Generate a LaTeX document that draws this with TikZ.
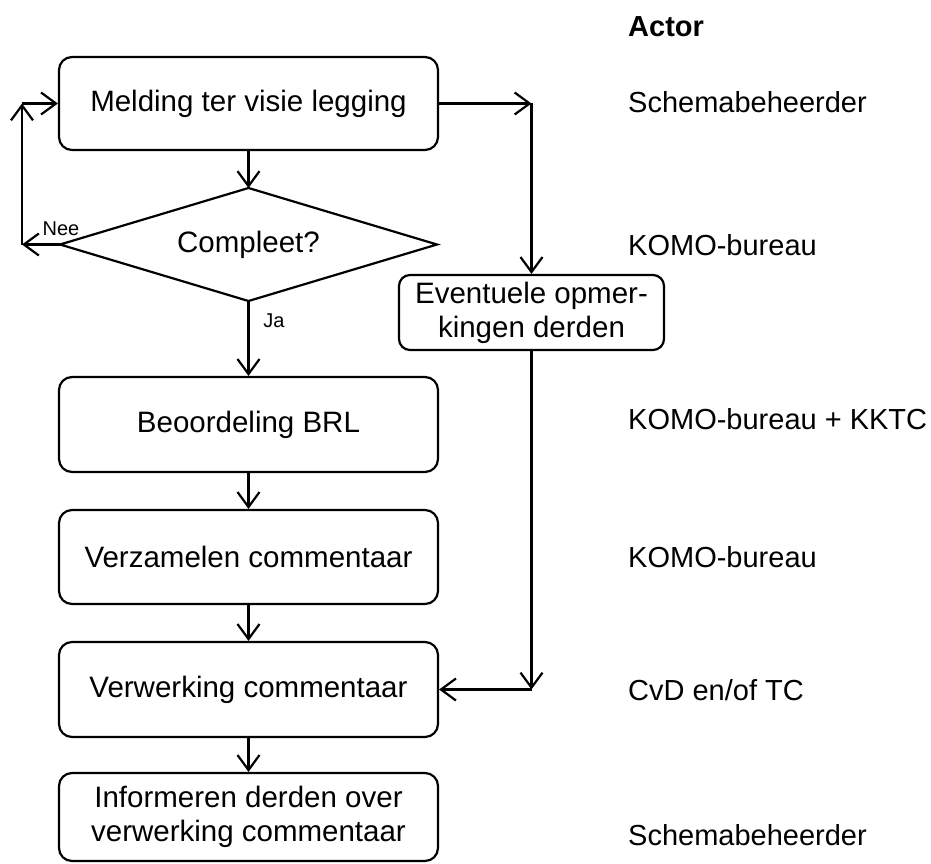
\documentclass[tikz,border=0pt]{standalone}
\usepackage{fontspec}
\setmainfont{Liberation Sans}
\usetikzlibrary{arrows.meta}
\begin{document}
\begin{tikzpicture}[x=1pt,y=-1pt,
  every node/.style={font=\fontsize{29.5}{34}\selectfont},
  box/.style={draw,line width=2.2pt,rounded corners=13pt,minimum width=379pt,align=center,inner sep=0pt},
  conn/.style={line width=2.2pt,-{Straight Barb[length=15pt,width=22pt,line width=2.2pt]}},
  small/.style={font=\fontsize{20}{24}\selectfont},
  actor/.style={anchor=base west,inner sep=0pt,font=\fontsize{29}{34}\selectfont}]
\useasboundingbox (0,0) rectangle (931,864);
\node[box,minimum height=93pt] (m) at (248.5,103.5) {Melding ter visie legging};
\coordinate (dt) at (248.5,188);
\coordinate (dr) at (437,244.5);
\coordinate (db) at (248.5,301);
\coordinate (dl) at (60,244.5);
\draw[line width=2.2pt,line join=miter] (dt) -- (dr) -- (db) -- (dl) -- cycle;
\node (d) at (248.5,244.5) {Compleet?};
\node[box,minimum height=95pt] (b) at (248.5,424.5) {Beoordeling BRL};
\node[box,minimum height=94pt] (v) at (248.5,557) {Verzamelen commentaar};
\node[box,minimum height=95pt] (w) at (248.5,689.5) {Verwerking commentaar};
\node[box,minimum height=88pt] (i) at (248.5,817) {Informeren derden over\\verwerking commentaar};
\node[box,minimum width=265pt,minimum height=75pt,rounded corners=11pt] (e) at (531.5,312.5) {Eventuele opmer-\\kingen derden};
\coordinate (lb) at (22,244.5);
\coordinate (lt) at (22,103.5);
\coordinate (rt) at (531.5,103.5);
\coordinate (rb) at (531.5,689.5);
\draw[conn] (m) -- (dt);
\draw[conn] (db) -- (b);
\node[small] (ja) at (274,321) {Ja};
\draw[conn] (b) -- (v);
\draw[conn] (v) -- (w);
\draw[conn] (w) -- (i);
\draw[conn] (dl) -- (lb);
\node[small] (nee) at (61,229) {Nee};
\draw[conn] (lb) -- (lt);
\draw[conn] (lt) -- (m.west);
\draw[conn] (m.east) -- (rt);
\draw[conn] (rt) -- (e.north);
\draw[conn] (e.south) -- (rb);
\draw[conn] (rb) -- (w.east);
\node[actor,font=\fontsize{29}{34}\selectfont\bfseries] (a0) at (628,37) {Actor};
\node[actor] (a1) at (628,113) {Schemabeheerder};
\node[actor] (a2) at (628,255) {KOMO-bureau};
\node[actor] (a3) at (628,429) {KOMO-bureau + KKTC};
\node[actor] (a4) at (628,567) {KOMO-bureau};
\node[actor] (a5) at (628,700) {CvD en/of TC};
\node[actor] (a6) at (628,845) {Schemabeheerder};
\end{tikzpicture}
\end{document}
